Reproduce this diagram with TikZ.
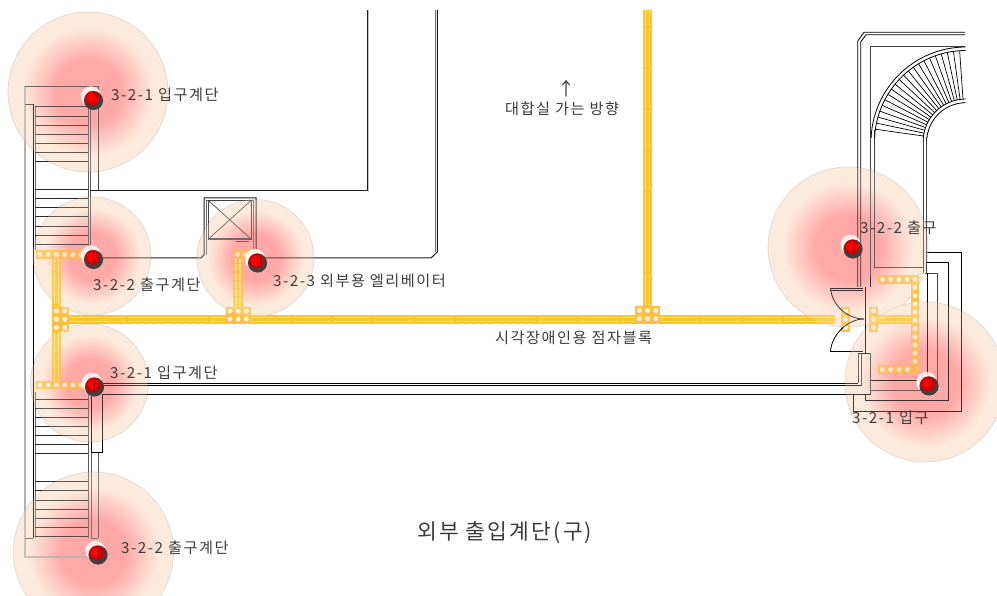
\documentclass[tikz,border=0pt]{standalone}
\usepackage{fontspec}
\setmainfont{Noto Sans CJK KR}
\newfontfamily\krf[LetterSpace=10]{Noto Sans CJK KR}
\definecolor{spotA}{HTML}{FFA8A8}
\definecolor{spotB}{HTML}{FCEBDC}
\definecolor{tileA}{HTML}{FFC42A}
\definecolor{tileB}{HTML}{FFE98F}
\definecolor{tileD}{HTML}{FFBF45}
\definecolor{tileE}{HTML}{FFF4D8}
\definecolor{ink}{HTML}{3C3C3C}
\pgfdeclareradialshading{spotshade}{\pgfpoint{0bp}{0bp}}{%
 color(0bp)=(spotA); color(10bp)=(spotA); color(20.5bp)=(spotB); color(25bp)=(spotB); color(50bp)=(spotB)}
\tikzset{
 wall/.style={draw=black,line width=.8pt},
 wallg/.style={draw=black!75,line width=.9pt},
 wallk/.style={draw=black!88,line width=1pt},
 lab/.style={anchor=west,text=ink,inner sep=0pt,font=\fontsize{15.2}{16}\krf},
 spot/.style={shading=spotshade},
}
\newcommand\strip[4]{%
 \draw[tileA,line width=9.4pt] (#1,#2)--(#3,#4);
 \draw[tileB,line width=5.6pt] (#1,#2)--(#3,#4);
 \draw[tileA,line width=2.2pt] (#1,#2)--(#3,#4);
 \draw[tileA,line width=9pt,dash pattern=on 1.2pt off 7pt] (#1,#2)--(#3,#4);}
\newcommand\tilerow[4]{%
 \draw[tileD,line width=8.8pt,line cap=rect] (#1,#2)--(#3,#4);
 \draw[tileE,line width=5pt,line cap=round,dash pattern=on 0pt off 8.2pt] (#1,#2)--(#3,#4);}
\newcommand\mk[2]{%
 \fill[white,opacity=.8] (#1-1.5,#2-2) circle (10.2);
 \fill[black!75] (#1+1,#2+2) circle (9.6);
 \fill[red!80!black] (#1,#2) circle (7.4);
 \fill[red] (#1-1.2,#2-.6) circle (4.8);
 \draw[red!65!black,line width=.9pt] (#1+1.2,#2-6.5)--(#1+1.2,#2+6.5);}
\begin{document}
\begin{tikzpicture}[x=1pt,y=-1pt]
\useasboundingbox (0,0) rectangle (997,596);
% spots underneath
\foreach \cx/\cy/\rr in {88/92/80,92/256/59,255.5/258/58.5,89.5/383/59,93.5/552/80,848/247/80,925/382/80}{
 \shade[spot] (\cx,\cy) circle (\rr);
 \draw[black!30,line width=.7pt,opacity=.45] (\cx,\cy) circle (\rr);
}
% tactile strips
\strip{69}{319.5}{835}{319.5}
\strip{647.5}{10}{647.5}{306}
\strip{56.5}{255}{56.5}{385}
\strip{238}{255}{238}{310}
\strip{878}{319.5}{911}{319.5}
\tilerow{40}{254.5}{81}{254.5}
\tilerow{40}{385}{81}{385}
\tilerow{237.5}{254.5}{246}{254.5}
\tilerow{56.5}{311}{64.7}{311}
\tilerow{56.5}{319.2}{64.7}{319.2}
\tilerow{56.5}{327.4}{64.7}{327.4}
\tilerow{230}{311}{246.4}{311}
\tilerow{230}{319}{246.4}{319}
\tilerow{639.5}{310.5}{655.9}{310.5}
\tilerow{639.5}{318.7}{655.9}{318.7}
\tilerow{845.5}{311}{845.5}{327.4}
\tilerow{873.5}{311}{873.5}{327.4}
\tilerow{882.5}{279.3}{915}{279.3}
\tilerow{915}{279.3}{915}{369.5}
\tilerow{882.5}{369.5}{915}{369.5}
% left walls
\draw[black!30,line width=1.1pt] (25,86)--(25,557)--(97,557);
\draw[wallg] (25,104)--(33,104) (25,86)--(98,86)--(98,191);
\draw[wall] (33,104)--(33,538);
\draw[black!60,line width=.6pt] (35,106)--(35,250) (35,392)--(35,538);
\foreach \y in {106.7,116,125,134.5,143.5,152.7,161.7,189.5,198.5,207.5,216.5,226,235,244,
 399,408,417,426,435,444,453.5,481,490,500,509,518,527,536}
 \draw[black!85,line width=.9pt] (35,\y)--(88,\y);
\draw[black!65,line width=.8pt] (88,106)--(88,250) (90.5,106)--(90.5,250) (88,392)--(88,538) (91,392)--(91,538);
\draw[black!65,line width=.8pt] (25,538)--(33,538) (91,538)--(98,538) (98,452)--(98,538);
\draw[wall] (91,452)--(102,452)--(102,394) (91,394)--(91,452);
% corridors
\draw[wallk] (90,191)--(367,191)--(367,10);
\draw[black!25,line width=.6pt] (368.2,10)--(368.2,192);
\draw[wallk] (92,257.8)--(201,257.8)--(204,255)--(204,198)--(256,198)--(256,250);
\draw[black!60,line width=.7pt] (206,255)--(206,200.2)--(253.5,200.2)--(253.5,250);
\draw[wallk] (260,258)--(431,258)--(437.3,252)--(437.3,10);
\draw[black!55,line width=.9pt] (435.3,252)--(435.3,10);
\draw[wall] (100,383.3)--(858,383.3) (100,385.8)--(861,385.8);
\draw[wall] (102,394.3)--(871,394.3);
% elevator
\draw[black!75,line width=.8pt] (208.5,200.5)--(251,200.5)--(251,239)--(208.5,239)--cycle;
\draw[black!75,line width=.7pt] (208.5,200.5)--(251,239) (251,200.5)--(208.5,239);
\draw[black!70,line width=1.4pt] (208.5,239)--(250,239);
\draw[black!70,line width=.6pt] (236,241)--(249,241);
% right structure
\draw[wall] (857.7,287)--(857.7,41)--(864,32.3)--(965,32.3);
\draw[wall] (860.7,287)--(860.7,42)--(866,34.8)--(965,34.8);
\draw[wallg] (870.7,275.7)--(870.7,46)--(965,46);
\draw[wallg] (874,267)--(874,130);
\draw[wallg] (923,273)--(923,137) (926.7,273)--(926.7,137);
\draw[wallg] (874,267)--(923,267);
\draw[wall] (870.7,276)--(870.7,287);
\begin{scope}
 \clip (860,30) rectangle (965.5,138);
 \draw[wall] (966,142) ++(180:95) arc[start angle=180,end angle=270,radius=95];
 \draw[wall] (966,142) ++(180:91.5) arc[start angle=180,end angle=270,radius=91.5];
 \draw[wall] (966,142) ++(180:43) arc[start angle=180,end angle=270,radius=43];
 \draw[wall] (966,142) ++(180:39.3) arc[start angle=180,end angle=270,radius=39.3];
 \foreach \a in {94,97.9,...,175}
  \draw[black,line width=.7pt] (966,142) ++(-\a:43) -- ++(-\a:48.5);
\end{scope}
% door and jambs
\draw[wall] (830,288)--(863,288) (830,290)--(863,290);
\draw[wall] (830,351)--(863,351) (858,353)--(871,353);
\draw[wall] (865.7,287)--(865.7,353);
\draw[wall] (830.5,288) .. controls (832,306) and (848,319) .. (864,319);
\draw[wall] (830.5,351) .. controls (832,334) and (848,319) .. (864,319);
\draw[wallg] (858,353)--(858,383.3) (861,353)--(861,385.8) (870.7,353)--(870.7,394.3);
% right outer boxes
\draw[wall] (927,252)--(961,252)--(961,411)--(853.3,411)--(853.3,394.3);
\draw[wall] (927,262.5)--(948,262.5)--(948,400)--(865.7,400)--(865.7,394.3);
\draw[wallg] (925,273.5)--(937,273.5)--(937,390)--(870.7,390);
\draw[wall] (927,273)--(927,375);
\draw[wall] (870.7,380)--(921,380);
% light veil
\foreach \cx/\cy/\rr in {88/92/80,92/256/59,255.5/258/58.5,89.5/383/59,93.5/552/80,848/247/80,925/382/80}{
 \shade[spot,opacity=.25] (\cx,\cy) circle (\rr);
}
% markers
\mk{92.5}{98.5}\mk{92.5}{257.5}\mk{256.5}{261}\mk{93.5}{385}\mk{97}{553}\mk{852}{247}\mk{928}{384}
% labels
\node[lab] (l1) at (111,95) {3-2-1 입구계단};
\node[lab] (l2) at (93,285) {3-2-2 출구계단};
\node[lab] (l3) at (273,281) {3-2-3 외부용 엘리베이터};
\node[lab] (l4) at (110,373) {3-2-1 입구계단};
\node[lab] (l5) at (121,548) {3-2-2 출구계단};
\node[lab] (l6) at (860,228) {3-2-2 출구};
\node[lab] (l7) at (852,418) {3-2-1 입구};
\node[lab] (l8) at (495,338) {시각장애인용 점자블록};
\node[lab] (l9) at (505,109) {대합실 가는 방향};
\node[lab,anchor=center,font=\fontsize{18}{18}\selectfont] (l10) at (566,89) {↑};
\node[lab,font=\fontsize{21.5}{22}\krf] (l11) at (417,533) {외부 출입계단(구)};
\end{tikzpicture}
\end{document}
